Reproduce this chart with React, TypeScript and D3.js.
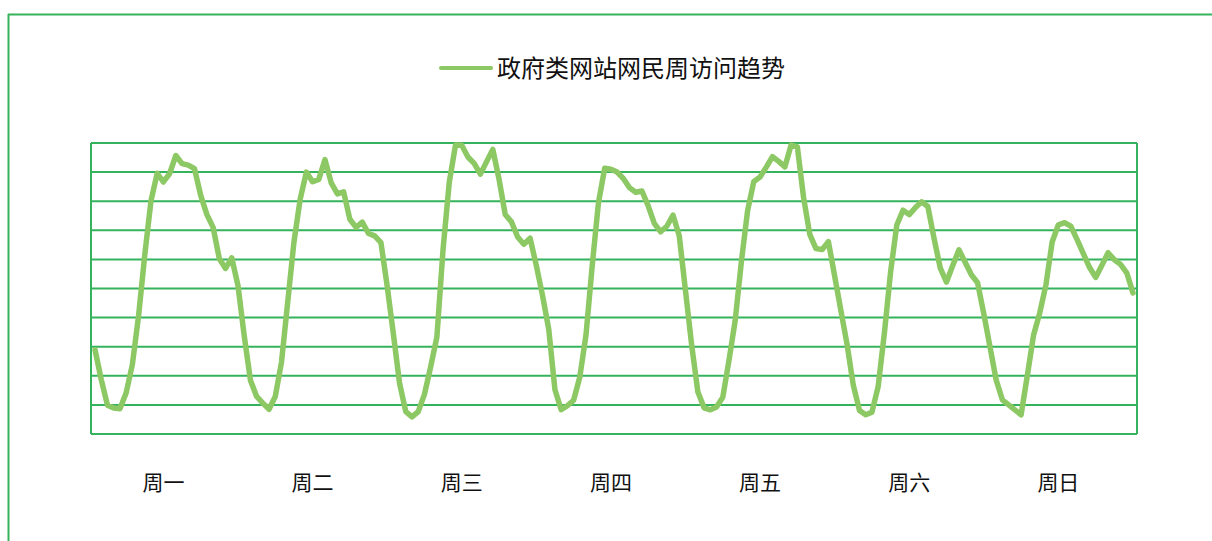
import React, { useEffect, useRef } from "react";
import * as d3 from "d3";

// hourly visits, one array per day (0-100 scale)
const mon = [28.9, 18.7, 9.9, 8.9, 8.7, 14.1, 23.8, 40.5, 61.5, 80.1, 89.6, 86.6, 89.5, 95.7, 92.9, 92.4, 91.2, 82.0, 75.4, 71.0, 60.2, 56.9, 60.5, 51.0];
const tue = [33.8, 18.5, 12.9, 10.6, 8.5, 12.9, 24.7, 45.3, 65.9, 80.6, 90.0, 86.7, 87.5, 94.3, 86.3, 82.5, 83.2, 73.8, 71.0, 72.8, 68.9, 68.1, 65.8, 50.9];
const wed = [34.4, 17.4, 7.7, 5.9, 7.7, 13.6, 23.1, 33.3, 63.6, 86.6, 99.3, 99.2, 95.2, 93.0, 89.3, 93.6, 97.8, 87.6, 75.4, 72.9, 67.7, 65.2, 67.3, 57.9];
const thu = [47.6, 36.0, 15.2, 8.4, 9.7, 11.6, 19.6, 34.1, 58.0, 79.5, 91.3, 91.0, 90.0, 87.8, 84.6, 83.1, 83.5, 78.4, 72.3, 69.5, 71.4, 75.2, 68.1, 49.3];
const fri = [30.5, 14.4, 9.0, 8.3, 9.3, 12.6, 25.3, 39.0, 59.3, 76.8, 86.8, 88.3, 91.7, 95.3, 93.7, 91.8, 99.3, 98.7, 81.3, 68.6, 63.7, 63.4, 66.1, 54.3];
const sat = [42.5, 30.8, 16.8, 8.1, 6.6, 7.5, 16.3, 34.6, 55.6, 71.8, 76.9, 75.4, 77.8, 79.8, 78.2, 67.2, 57.0, 52.2, 57.9, 63.3, 59.0, 54.7, 52.0, 41.3];
const sun = [29.9, 18.5, 11.7, 10.0, 8.3, 6.6, 20.0, 33.9, 41.6, 51.3, 66.0, 71.9, 72.6, 71.4, 66.9, 62.1, 57.3, 53.8, 58.0, 62.3, 59.9, 58.3, 55.4, 48.5];

const days = ["周一", "周二", "周三", "周四", "周五", "周六", "周日"];
const seriesName = "政府类网站网民周访问趋势";
const yTicks = [0, 10, 20, 30, 40, 50, 60, 70, 80, 90, 100];

const values = [mon, tue, wed, thu, fri, sat, sun].flat();

const lineColor = "#8cc863";
const gridColor = "#35b35c";
const font = "'Noto Sans CJK SC', 'Noto Sans', sans-serif";

export default function App() {
  const ref = useRef<SVGSVGElement>(null);

  useEffect(() => {
    const svg = d3.select(ref.current);
    svg.selectAll("*").remove();

    const left = 91, right = 1137, top = 143, bottom = 434;

    // outer frame
    svg.append("line").attr("x1", 8).attr("x2", 1212).attr("y1", 14.5).attr("y2", 14.5)
      .attr("stroke", gridColor).attr("stroke-width", 2);
    svg.append("line").attr("x1", 8.5).attr("x2", 8.5).attr("y1", 14).attr("y2", 541)
      .attr("stroke", gridColor).attr("stroke-width", 2);

    const x = d3.scaleLinear().domain([-0.65, values.length - 1 + 0.65]).range([left, right]);
    const y = d3.scaleLinear().domain([0, 100]).range([bottom, top]);

    const chart = svg.append("g");

    chart.selectAll("line.grid")
      .data(yTicks)
      .enter()
      .append("line")
      .attr("class", "grid")
      .attr("x1", left).attr("x2", right)
      .attr("y1", d => y(d)).attr("y2", d => y(d))
      .attr("stroke", gridColor).attr("stroke-width", 2);

    chart.selectAll("line.side")
      .data([left, right])
      .enter()
      .append("line")
      .attr("class", "side")
      .attr("x1", d => d).attr("x2", d => d)
      .attr("y1", top).attr("y2", bottom)
      .attr("stroke", gridColor).attr("stroke-width", 2);

    const line = d3.line<number>()
      .x((d, i) => x(i))
      .y(d => y(d));

    chart.append("path")
      .datum(values)
      .attr("d", line)
      .attr("fill", "none")
      .attr("stroke", lineColor)
      .attr("stroke-width", 5.5)
      .attr("stroke-linejoin", "round")
      .attr("stroke-linecap", "round");

    chart.selectAll("text.day")
      .data(days)
      .enter()
      .append("text")
      .attr("class", "day")
      .attr("x", (d, i) => x(i * 24 + 11))
      .attr("y", 490)
      .attr("text-anchor", "middle")
      .attr("font-family", font)
      .attr("font-size", 21)
      .attr("fill", "#111")
      .text(d => d);

    // legend
    const legend = svg.append("g").attr("transform", "translate(441, 68)");
    legend.append("line").attr("x1", 0).attr("x2", 50).attr("y1", 0).attr("y2", 0)
      .attr("stroke", lineColor).attr("stroke-width", 4).attr("stroke-linecap", "round");
    legend.append("text")
      .attr("x", 56).attr("y", 9)
      .attr("font-family", font)
      .attr("font-size", 24)
      .attr("fill", "#111")
      .text(seriesName);
  }, []);

  return (
    <svg ref={ref} width={1212} height={541}
      style={{ position: "absolute", left: 0, top: 0, background: "#fff" }} />
  );
}
